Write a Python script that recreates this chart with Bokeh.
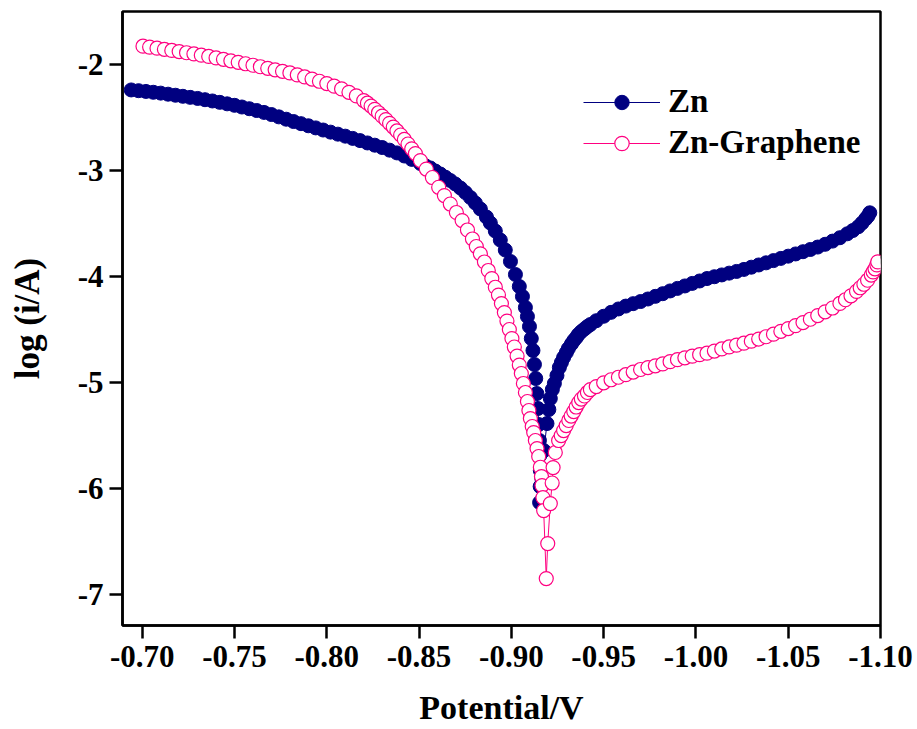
from bokeh.plotting import figure
from bokeh.models import Range1d, FixedTicker, NumeralTickFormatter, Legend, LegendItem
from bokeh.embed import file_html
from bokeh.resources import INLINE

# ---------------- data ----------------
# Zn : potential (V) and log(i/A)
zn_potential = [
    -0.694, -0.698, -0.702, -0.706, -0.710, -0.714, -0.718, -0.722, -0.726, -0.730,
    -0.734, -0.738, -0.742, -0.746, -0.750, -0.754, -0.758, -0.762, -0.766, -0.770,
    -0.774, -0.778, -0.782, -0.786, -0.790, -0.794, -0.798, -0.802, -0.806, -0.810,
    -0.814, -0.818, -0.822, -0.826, -0.830, -0.834, -0.838, -0.842, -0.846,
    -0.8507, -0.8534, -0.8561, -0.8588, -0.8615, -0.8642, -0.8669, -0.8696, -0.8724, -0.8751,
    -0.8778, -0.8805, -0.8832, -0.8865, -0.8886, -0.8913, -0.8940, -0.8967, -0.8995, -0.9022,
    -0.9043, -0.9060, -0.9076, -0.9087, -0.9098, -0.9108, -0.9117, -0.9125, -0.9132, -0.9138,
    -0.9144, -0.9148, -0.9152, -0.9154, -0.9157, -0.9156, -0.9153,
    -0.9165, -0.9176, -0.9193, -0.9203, -0.9211, -0.9222, -0.9233, -0.9247, -0.9260, -0.9271,
    -0.9283, -0.9298, -0.9309, -0.9325, -0.9338, -0.9352, -0.9363, -0.9379, -0.9396, -0.9412,
    -0.9428,
    -0.946, -0.950, -0.954, -0.958, -0.962, -0.966, -0.970, -0.974, -0.978, -0.982,
    -0.986, -0.990, -0.994, -0.998, -1.002, -1.006, -1.010, -1.014, -1.018, -1.022,
    -1.026, -1.030, -1.034, -1.038, -1.042, -1.046, -1.050, -1.054, -1.058, -1.062,
    -1.066, -1.070, -1.074, -1.078, -1.082, -1.085, -1.088, -1.090, -1.092, -1.0932,
    -1.0942,
]
zn_logi = [
    -2.240, -2.247, -2.254, -2.262, -2.270, -2.280, -2.290, -2.300, -2.310, -2.320,
    -2.332, -2.344, -2.357, -2.371, -2.385, -2.401, -2.417, -2.434, -2.452, -2.472,
    -2.494, -2.516, -2.538, -2.558, -2.578, -2.598, -2.618, -2.638, -2.657, -2.676,
    -2.697, -2.718, -2.740, -2.761, -2.783, -2.808, -2.834, -2.863, -2.895,
    -2.934, -2.955, -2.976, -3.005, -3.033, -3.063, -3.094, -3.127, -3.165, -3.208,
    -3.255, -3.307, -3.363, -3.439, -3.495, -3.571, -3.656, -3.750, -3.858, -3.981,
    -4.094, -4.189, -4.292, -4.377, -4.472, -4.585, -4.698, -4.830, -4.962, -5.104,
    -5.245, -5.396, -5.547, -5.689, -5.830, -5.981, -6.132,
    -5.906, -5.642, -5.387, -5.255, -5.151, -5.066, -5.009, -4.934, -4.858, -4.811,
    -4.764, -4.717, -4.679, -4.637, -4.604, -4.575, -4.547, -4.519, -4.495, -4.472,
    -4.453,
    -4.417, -4.375, -4.338, -4.306, -4.279, -4.256, -4.236, -4.212, -4.187, -4.162,
    -4.136, -4.112, -4.089, -4.065, -4.042, -4.019, -4.002, -3.985, -3.968, -3.952,
    -3.933, -3.912, -3.891, -3.871, -3.850, -3.829, -3.808, -3.787, -3.766, -3.745,
    -3.722, -3.696, -3.666, -3.634, -3.597, -3.566, -3.530, -3.495, -3.455, -3.430,
    -3.399,
]

# Zn-Graphene : potential (V) and log(i/A)
zng_potential = [
    -0.7004, -0.704, -0.708, -0.712, -0.716, -0.720, -0.724, -0.728, -0.732, -0.736,
    -0.740, -0.744, -0.748, -0.752, -0.756, -0.760, -0.764, -0.768, -0.772, -0.776,
    -0.780, -0.784, -0.788, -0.792, -0.796, -0.800, -0.804, -0.808, -0.812, -0.816,
    -0.820, -0.822, -0.824, -0.826, -0.828, -0.830, -0.832, -0.834, -0.836, -0.838,
    -0.840, -0.842, -0.844, -0.846,
    -0.8480, -0.8507, -0.8539, -0.8572, -0.8606, -0.8637, -0.8669, -0.8702, -0.8733, -0.8762,
    -0.8789, -0.8810, -0.8832, -0.8854, -0.8875, -0.8894, -0.8913, -0.8930, -0.8946, -0.8962,
    -0.8976, -0.8989, -0.9003, -0.9016, -0.9031, -0.9043, -0.9054, -0.9065, -0.9076, -0.9087,
    -0.9095, -0.9103, -0.9113, -0.9121, -0.9130, -0.9139, -0.9148, -0.9157, -0.9163, -0.9166,
    -0.9171, -0.9175, -0.9189, -0.9197,
    -0.9211, -0.9221, -0.9226, -0.9238, -0.9256, -0.9270, -0.9283, -0.9297, -0.9311, -0.9324,
    -0.9338, -0.9351, -0.9365, -0.9379, -0.9396, -0.9412, -0.9428,
    -0.946, -0.950, -0.954, -0.958, -0.962, -0.966, -0.970, -0.974, -0.978, -0.982,
    -0.986, -0.990, -0.994, -0.998, -1.002, -1.006, -1.010, -1.014, -1.018, -1.022,
    -1.026, -1.030, -1.034, -1.038, -1.042, -1.046, -1.050, -1.054, -1.058, -1.062,
    -1.066, -1.070, -1.074, -1.078, -1.081, -1.084, -1.087, -1.089, -1.091, -1.093,
    -1.095, -1.096, -1.097, -1.098, -1.0985,
]
zng_logi = [
    -1.827, -1.836, -1.846, -1.857, -1.867, -1.878, -1.889, -1.900, -1.912, -1.924,
    -1.938, -1.951, -1.965, -1.979, -1.993, -2.007, -2.021, -2.036, -2.050, -2.064,
    -2.079, -2.098, -2.117, -2.137, -2.158, -2.180, -2.204, -2.230, -2.262, -2.296,
    -2.340, -2.365, -2.392, -2.423, -2.455, -2.487, -2.520, -2.555, -2.590, -2.627,
    -2.665, -2.707, -2.750, -2.795,
    -2.840, -2.906, -2.986, -3.066, -3.158, -3.236, -3.316, -3.396, -3.472, -3.561,
    -3.646, -3.717, -3.786, -3.863, -3.943, -4.019, -4.101, -4.175, -4.255, -4.340,
    -4.420, -4.500, -4.585, -4.665, -4.750, -4.835, -4.915, -5.009, -5.094, -5.179,
    -5.264, -5.340, -5.415, -5.472, -5.547, -5.623, -5.698, -5.799, -5.887, -5.972,
    -6.085, -6.208, -6.849, -6.519,
    -6.142, -5.948, -5.802, -5.660, -5.547, -5.500, -5.453, -5.406, -5.358, -5.316,
    -5.274, -5.231, -5.189, -5.156, -5.127, -5.094, -5.066,
    -5.038, -5.003, -4.974, -4.950, -4.926, -4.901, -4.877, -4.859, -4.842, -4.824,
    -4.803, -4.784, -4.767, -4.751, -4.737, -4.723, -4.703, -4.683, -4.664, -4.647,
    -4.629, -4.610, -4.590, -4.568, -4.544, -4.517, -4.491, -4.463, -4.434, -4.403,
    -4.368, -4.333, -4.297, -4.254, -4.219, -4.182, -4.140, -4.106, -4.073, -4.035,
    -3.986, -3.957, -3.927, -3.890, -3.862,
]

series_names = ["Zn", "Zn-Graphene"]
x_ticks = [-0.70, -0.75, -0.80, -0.85, -0.90, -0.95, -1.00, -1.05, -1.10]
y_ticks = [-7, -6, -5, -4, -3, -2]
x_title = "Potential/V"
y_title = "log (i/A)"

# ---------------- styling ----------------
FONT = "Liberation Serif"
NAVY = "#000080"
PINK = "#FF0080"

p = figure(width=917, height=729, output_backend="svg", toolbar_location=None,
           x_range=Range1d(-0.6893, -1.10), y_range=Range1d(-7.292, -1.5),
           min_border_left=122, min_border_right=37, min_border_top=11,
           min_border_bottom=104)

p.background_fill_color = "white"
p.border_fill_color = "white"
p.grid.grid_line_color = None
p.outline_line_color = "black"
p.outline_line_width = 2.5
p.outline_line_alpha = 1.0

for ax in (p.xaxis[0], p.yaxis[0]):
    ax.axis_line_width = 2.5
    ax.axis_line_color = "black"
    ax.major_tick_line_width = 2.5
    ax.major_tick_line_color = "black"
    ax.major_tick_in = 0
    ax.major_tick_out = 13
    ax.minor_tick_line_color = None
    ax.major_label_text_font = FONT
    ax.major_label_text_font_style = "bold"
    ax.major_label_text_font_size = "31px"
    ax.major_label_text_color = "black"
    ax.axis_label_text_font = FONT
    ax.axis_label_text_font_style = "bold"
    ax.axis_label_text_color = "black"

p.xaxis.ticker = FixedTicker(ticks=x_ticks)
p.xaxis.formatter = NumeralTickFormatter(format="0.00")
p.xaxis.major_label_standoff = 7
p.xaxis.axis_label = x_title
p.xaxis.axis_label_text_font_size = "34px"
p.xaxis.axis_label_standoff = 19

p.yaxis.ticker = FixedTicker(ticks=y_ticks)
p.yaxis.formatter = NumeralTickFormatter(format="0")
p.yaxis.major_label_standoff = 6
p.yaxis.axis_label = y_title
p.yaxis.axis_label_text_font_size = "35px"
p.yaxis.axis_label_standoff = 28

zn_line = p.line(zn_potential, zn_logi, line_color=NAVY, line_width=1)
zn_pts = p.scatter(zn_potential, zn_logi, size=14, marker="circle",
                   fill_color=NAVY, line_color=NAVY, line_width=1)
g_line = p.line(zng_potential, zng_logi, line_color=PINK, line_width=1)
g_pts = p.scatter(zng_potential, zng_logi, size=14, marker="circle",
                  fill_color="white", line_color=PINK, line_width=1.2)

legend = Legend(items=[LegendItem(label=series_names[0], renderers=[zn_line, zn_pts]),
                       LegendItem(label=series_names[1], renderers=[g_line, g_pts])],
                location=(461, 464), orientation="vertical",
                glyph_width=77, glyph_height=36, label_standoff=8, spacing=4,
                padding=0, margin=0, border_line_color=None,
                background_fill_alpha=0.0,
                label_text_font=FONT, label_text_font_style="bold",
                label_text_font_size="33px", label_text_color="black")
p.add_layout(legend)

open("out.html", "w").write(file_html(p, INLINE))
